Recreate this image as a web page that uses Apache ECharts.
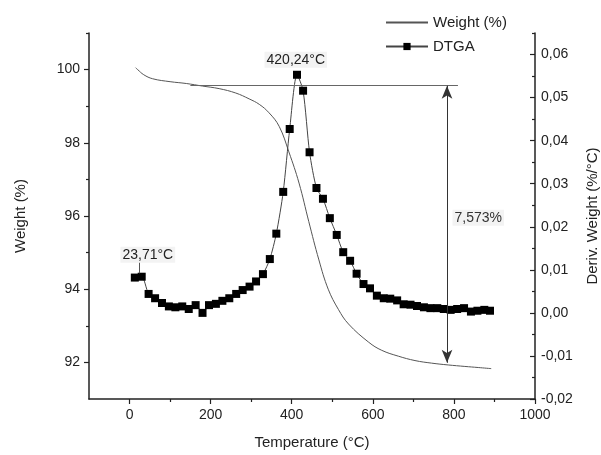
<!DOCTYPE html>
<html>
<head>
<meta charset="utf-8">
<script src="https://cdn.jsdelivr.net/npm/echarts@6/dist/echarts.min.js"></script>
<style>
  html, body { margin: 0; padding: 0; background: #fff; }
  #chart { width: 601px; height: 455px; }
</style>
</head>
<body>
<div id="chart"></div>
<script>
// weight curve (TGA)
var weightTemp = [15, 20, 35, 57, 100, 140, 180, 221, 262, 295, 320, 344, 369, 393, 418, 442, 467, 490, 515, 540, 590, 622, 663, 704, 745, 786, 827, 860, 892];
var weightVal = [100.05, 100.0, 99.86, 99.75, 99.67, 99.62, 99.55, 99.48, 99.36, 99.2, 99.05, 98.82, 98.45, 97.75, 96.9, 95.85, 94.8, 94.0, 93.45, 93.05, 92.55, 92.33, 92.17, 92.05, 91.98, 91.93, 91.89, 91.86, 91.83];

// derivative curve (DTGA)
var dtgaTemp = [13, 30, 47, 63, 80, 97, 113, 130, 146, 163, 180, 196, 213, 229, 246, 263, 279, 296, 312, 329,
  346, 362, 379, 395, 413, 428, 444, 461, 477, 494, 511, 527, 544, 560, 577, 593, 610, 627, 643, 660,
  676, 693, 709, 726, 742, 759, 775, 792, 808, 825, 842, 858, 875, 889];
var dtgaVal = [0.0082, 0.0084, 0.0044, 0.0034, 0.0023, 0.0015, 0.0013, 0.0015, 0.0009, 0.0018,
  0.0000, 0.0018, 0.0021, 0.0028, 0.0034, 0.0044, 0.0053, 0.0061, 0.0073, 0.0090,
  0.0125, 0.0184, 0.0281, 0.0427, 0.0553, 0.0516, 0.0373, 0.0290, 0.0265, 0.0220,
  0.0181, 0.0141, 0.0121, 0.0091, 0.0067, 0.0057, 0.0040, 0.0034, 0.0033, 0.0029,
  0.0020, 0.0019, 0.0016, 0.0013, 0.0011, 0.0011, 0.0009, 0.0007, 0.0009, 0.0011,
  0.0003, 0.0005, 0.0007, 0.0005];

// tick labels
var xTicks = [0, 200, 400, 600, 800, 1000];
var xMinor = [100, 300, 500, 700, 900];
var leftTicks = [92, 94, 96, 98, 100];
var leftMinor = [93, 95, 97, 99, 101];
var rightTicks = [-0.02, -0.01, 0, 0.01, 0.02, 0.03, 0.04, 0.05, 0.06];
var rightMinor = [-0.015, -0.005, 0.005, 0.015, 0.025, 0.035, 0.045, 0.055, 0.065];

// annotations
var plateau = 99.56;
var residue = 91.99;
var arrowTemp = 783;

var FONT = '"Liberation Sans", Arial, sans-serif';
var AX = '#222';

function pairs(xs, ys) {
  return xs.map(function (x, i) { return [x, ys[i]]; });
}

var myChart = echarts.init(document.getElementById('chart'));

var axisBase = {
  type: 'value',
  splitLine: { show: false },
  axisLine: { onZero: false, lineStyle: { color: AX, width: 1.5 } }
};

// only ticks, for the short in-between marks
function minorAxis(min, max, pos, ticks, inside) {
  return {
    type: 'value', min: min, max: max, position: pos,
    splitLine: { show: false },
    axisLine: { show: false, onZero: false },
    axisLabel: { show: false },
    axisTick: { customValues: ticks, inside: !!inside, length: 3, lineStyle: { color: AX, width: 1.2 } }
  };
}

myChart.setOption({
  animation: false,
  textStyle: { fontFamily: FONT },
  grid: { left: 89, right: 66, top: 33, bottom: 56, outerBoundsMode: 'none', containLabel: false },
  legend: {
    orient: 'vertical',
    left: 380,
    top: 10,
    itemWidth: 42,
    itemHeight: 9,
    itemGap: 9,
    textStyle: { fontSize: 15, color: '#222', fontFamily: FONT },
    data: [
      { name: 'Weight (%)', itemStyle: { opacity: 0 } },
      { name: 'DTGA' }
    ]
  },
  xAxis: [
    Object.assign({}, axisBase, {
      min: -100, max: 1000,
      position: 'bottom',
      name: 'Temperature (°C)',
      nameLocation: 'middle',
      nameGap: 36,
      nameTextStyle: { fontSize: 15, color: '#222', fontFamily: FONT },
      axisTick: { customValues: xTicks, length: 5, lineStyle: { color: AX, width: 1.2 } },
      axisLabel: {
        customValues: xTicks, fontSize: 14, color: '#222', margin: 9,
        formatter: function (v) { return String(v); }
      }
    }),
    minorAxis(-100, 1000, 'bottom', xMinor, false)
  ],
  yAxis: [
    Object.assign({}, axisBase, {
      min: 91, max: 101,
      position: 'left',
      name: 'Weight (%)',
      nameLocation: 'middle',
      nameGap: 61,
      nameTextStyle: { fontSize: 15, color: '#222', fontFamily: FONT },
      axisTick: { customValues: leftTicks, length: 5, lineStyle: { color: AX, width: 1.2 } },
      axisLabel: { customValues: leftTicks, fontSize: 14, color: '#222', margin: 9 }
    }),
    Object.assign({}, axisBase, {
      min: -0.02, max: 0.065,
      position: 'right',
      name: 'Deriv. Weight (%/°C)',
      nameLocation: 'middle',
      nameGap: 50,
      nameTextStyle: { fontSize: 15, color: '#222', fontFamily: FONT },
      axisTick: { customValues: rightTicks, inside: true, length: 5, lineStyle: { color: AX, width: 1.2 } },
      axisLabel: {
        customValues: rightTicks, fontSize: 14, color: '#222', margin: 6,
        formatter: function (v) { return v.toFixed(2).replace('.', ','); }
      }
    }),
    minorAxis(91, 101, 'left', leftMinor, false),
    minorAxis(-0.02, 0.065, 'right', rightMinor, true)
  ],
  series: [
    {
      name: 'Weight (%)',
      type: 'line',
      xAxisIndex: 0,
      yAxisIndex: 0,
      smooth: 0.4,
      symbol: 'none',
      itemStyle: { color: '#666' },
      lineStyle: { color: '#555', width: 1 },
      data: pairs(weightTemp, weightVal),
      markLine: {
        silent: true,
        symbol: 'none',
        lineStyle: { color: '#666', width: 1, type: 'solid' },
        label: { show: false },
        data: [
          [{ coord: [150, plateau] }, { coord: [810, plateau] }],
          [{ coord: [arrowTemp, plateau], symbol: 'arrow', symbolSize: [8, 13], lineStyle: { color: '#333' } },
           { coord: [arrowTemp, residue], symbol: 'arrow', symbolSize: [8, 13] }]
        ]
      },
      markPoint: {
        silent: true,
        symbol: 'rect',
        symbolSize: 1,
        itemStyle: { color: 'rgba(0,0,0,0)' },
        label: {
          show: true, position: 'inside', color: '#333', fontSize: 14,
          backgroundColor: '#f3f3f3', padding: [1, 2]
        },
        data: [
          { coord: [860, 95.95], label: { formatter: '7,573%' } }
        ]
      }
    },
    {
      name: 'DTGA',
      type: 'line',
      xAxisIndex: 0,
      yAxisIndex: 1,
      smooth: 0.25,
      symbol: 'rect',
      symbolSize: 8,
      itemStyle: { color: '#000' },
      lineStyle: { color: '#444', width: 1 },
      data: pairs(dtgaTemp, dtgaVal),
      markLine: {
        silent: true,
        symbol: 'none',
        lineStyle: { color: '#555', width: 1, type: 'solid' },
        label: { show: false },
        data: [
          [{ coord: [25, 0.0118] }, { coord: [25, 0.0092] }]
        ]
      },
      markPoint: {
        silent: true,
        symbol: 'rect',
        symbolSize: 1,
        itemStyle: { color: 'rgba(0,0,0,0)' },
        label: {
          show: true, position: 'inside', color: '#222', fontSize: 14,
          backgroundColor: '#f3f3f3', padding: [1, 2]
        },
        data: [
          { coord: [410, 0.0588], label: { formatter: '420,24°C' } },
          { coord: [45, 0.0135], label: { formatter: '23,71°C' } }
        ]
      }
    }
  ]
});
</script>
</body>
</html>
